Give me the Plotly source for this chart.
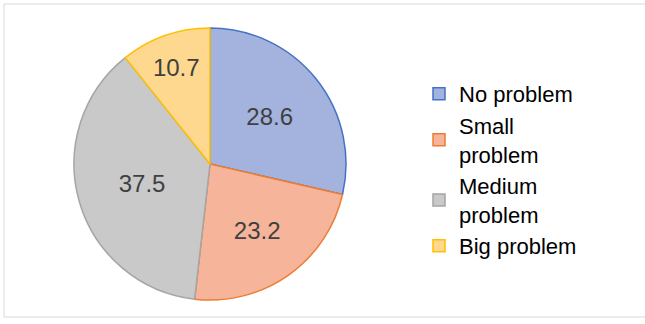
import plotly.graph_objects as go

categories = ["No problem", "Small<br>problem", "Medium<br>problem", "Big problem"]
values = [28.6, 23.2, 37.5, 10.7]
fill_colors = ["#A3B3DE", "#F6B59B", "#C9C9C9", "#FED88E"]
line_colors = ["#4472C4", "#ED7D31", "#A5A5A5", "#FFC000"]

W, H = 645, 324
cx, cy, r = 210, 164, 136

fig = go.Figure(go.Pie(
    labels=categories,
    values=values,
    sort=False,
    direction="clockwise",
    rotation=0,
    marker=dict(colors=fill_colors, line=dict(color=line_colors, width=1.5)),
    texttemplate="%{value}",
    textposition="inside",
    insidetextorientation="horizontal",
    textfont=dict(family="Liberation Sans, Arial, sans-serif", size=24, color="#404040"),
    domain=dict(x=[(cx - r) / W, (cx + r) / W], y=[(H - cy - r) / H, (H - cy + r) / H]),
    hoverinfo="label+value",
))

fig.update_layout(
    width=W, height=H,
    margin=dict(l=0, r=0, t=0, b=0),
    paper_bgcolor="white",
    plot_bgcolor="white",
    showlegend=True,
    legend=dict(
        x=419 / W, y=1 - 73 / H, xanchor="left", yanchor="top",
        font=dict(family="Liberation Sans, Arial, sans-serif", size=22, color="#000000"),
        itemwidth=30,
        tracegroupgap=0,
        bgcolor="rgba(0,0,0,0)",
    ),
    shapes=[dict(type="rect", xref="paper", yref="paper",
                 x0=4 / W, x1=1.02, y0=1 - 317 / H, y1=1 - 4 / H,
                 line=dict(color="#D9D9D9", width=1))],
)

fig.write_html("out.html", config={"displayModeBar": False},
               post_script="document.body.style.margin='0px';")
